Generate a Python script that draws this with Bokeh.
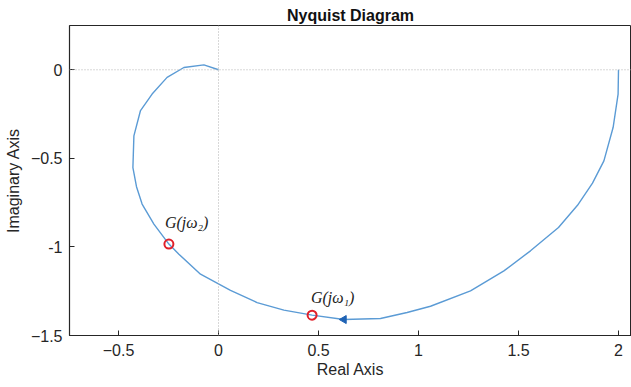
from bokeh.plotting import figure
from bokeh.models import Range1d, FixedTicker, Span, ColumnDataSource
from bokeh.core.properties import value
from bokeh.embed import file_html
from bokeh.resources import INLINE
import math

# Nyquist curve G(jw), traced from w=0 (at 2+0j) to w->inf (origin)
re_vals = [2.0, 1.998, 1.973, 1.927, 1.87, 1.795, 1.70, 1.56, 1.427, 1.26, 1.06, 0.943,
           0.81, 0.627, 0.468, 0.327, 0.193, 0.06, -0.09, -0.198, -0.248, -0.323,
           -0.382, -0.41, -0.428, -0.423, -0.39, -0.332, -0.257, -0.173, -0.073, 0.0]
im_vals = [0.0, -0.137, -0.326, -0.514, -0.64, -0.765, -0.89, -1.022, -1.135, -1.248, -1.335, -1.37,
           -1.404, -1.41, -1.385, -1.357, -1.314, -1.245, -1.154, -1.041, -0.984, -0.871,
           -0.758, -0.66, -0.552, -0.373, -0.23, -0.137, -0.043, 0.013, 0.028, 0.0]

# Marked points
mark_re = [0.468, -0.248]
mark_im = [-1.385, -0.984]
mark_labels = ["G(jω₁)", "G(jω₂)"]
label_re = [0.462, -0.268]
label_im = [-1.335, -0.91]

# Direction arrow
arrow_re = [0.627]
arrow_im = [-1.41]

x_ticks = [-0.5, 0, 0.5, 1, 1.5, 2]
y_ticks = [-1.5, -1, -0.5, 0]

axis_col = "#262626"
font = "Liberation Sans"

p = figure(width=631, height=387, x_range=Range1d(-0.745, 2.065), y_range=Range1d(-1.5, 0.25),
           output_backend="svg", toolbar_location=None,
           min_border_left=69, min_border_right=0, min_border_top=25, min_border_bottom=52,
           title="Nyquist Diagram")
p.title.text_font = font
p.title.text_font_size = "16px"
p.title.text_font_style = "bold"
p.title.text_color = "#111111"
p.title.align = "center"
p.title.standoff = 3

p.grid.visible = False
p.outline_line_color = axis_col
p.outline_line_width = 1
p.background_fill_color = "white"
p.border_fill_color = "white"

for ax, ticks in ((p.xaxis[0], x_ticks), (p.yaxis[0], y_ticks)):
    ax.ticker = FixedTicker(ticks=ticks)
    ax.major_tick_in = 5
    ax.major_tick_out = 0
    ax.minor_tick_line_color = None
    ax.axis_line_color = axis_col
    ax.axis_line_width = 1.2
    ax.major_tick_line_color = axis_col
    ax.major_label_text_font = font
    ax.major_label_text_font_size = "16px"
    ax.major_label_text_color = axis_col
    ax.axis_label_text_font = font
    ax.axis_label_text_font_size = "16px"
    ax.axis_label_text_font_style = "normal"
    ax.axis_label_text_color = axis_col

p.xaxis.axis_label = "Real Axis"
p.yaxis.axis_label = "Imaginary Axis"
p.xaxis.major_label_standoff = 8
p.xaxis.axis_label_standoff = 2
p.yaxis.major_label_standoff = 7
p.yaxis.axis_label_standoff = 6
p.yaxis.major_label_overrides = {0: "0", -1: "-1"}
p.xaxis.major_label_overrides = {0: "0", 1: "1", 2: "2"}

# zero lines
p.add_layout(Span(location=0, dimension="width", line_color="#b0b0b0", line_dash="1 2", line_width=1))
p.add_layout(Span(location=0, dimension="height", line_color="#b0b0b0", line_dash="1 2", line_width=1))

src = ColumnDataSource(dict(x=re_vals, y=im_vals))
p.line("x", "y", source=src, line_color="#5b9bd5", line_width=1.4)

p.scatter(arrow_re, arrow_im, marker="triangle", size=8, angle=math.pi / 2,
          fill_color="#1f63b5", line_color="#1f63b5")

p.scatter(mark_re, mark_im, marker="circle", size=9, fill_color=None,
          line_color="#e0202a", line_width=2)

p.text(label_re, label_im, text=mark_labels, text_font=value("Liberation Serif"),
       text_font_style="italic", text_font_size="16px", text_color="#222222",
       text_baseline="bottom", text_align="left")

open("out.html", "w").write(file_html(p, INLINE))
